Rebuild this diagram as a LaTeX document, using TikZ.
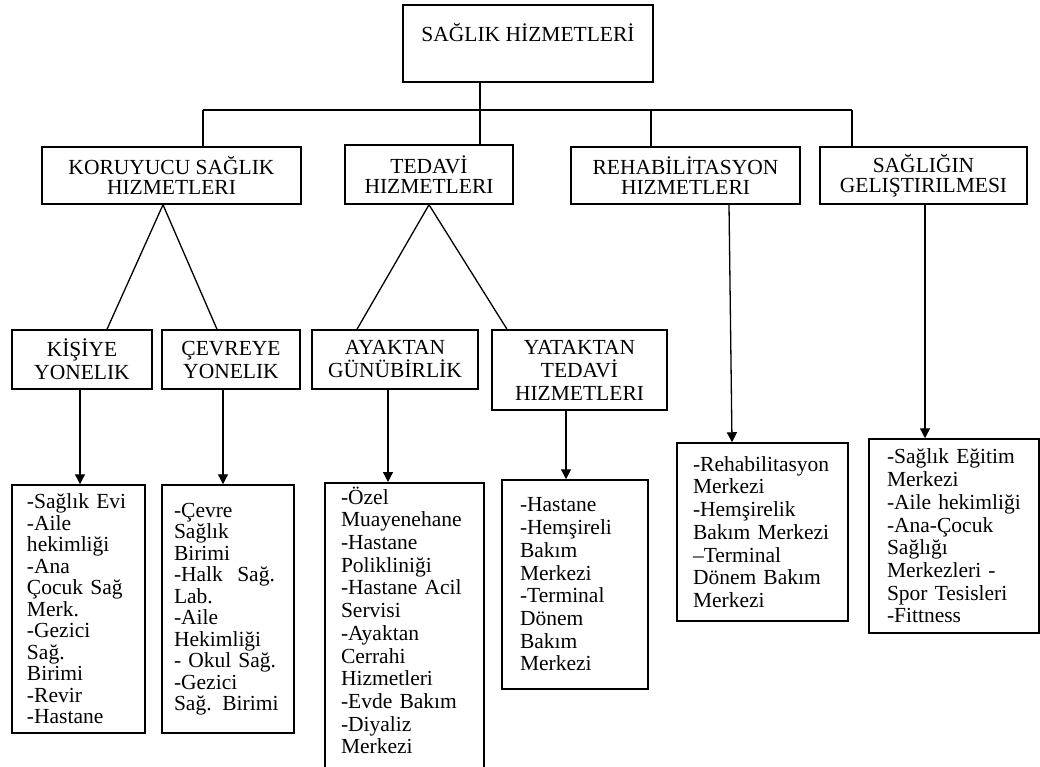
\documentclass[tikz,border=0pt]{standalone}
\usepackage{fontspec}
\setmainfont{Liberation Serif}
\usetikzlibrary{arrows.meta}
\tikzset{
  kutu/.style={draw, line width=1.5pt, align=center, inner sep=0pt, font=\fontsize{21.5}{20.5}\selectfont},
  altkutu/.style={kutu, font=\fontsize{21.5}{23}\selectfont},
  liste/.style={draw, line width=1.5pt, align=left, inner ysep=0pt, font=\fontsize{21.5}{22.7}\selectfont,
    execute at begin node={\hyphenpenalty=10000 \exhyphenpenalty=10000 }},
  sikliste/.style={liste, font=\fontsize{21.5}{21.5}\selectfont},
  cizgi/.style={line width=1.3pt},
  ok/.style={cizgi, -{Triangle[length=10pt,width=10pt]}}
}
\begin{document}
\begin{tikzpicture}[x=1pt, y=-1pt]
            \useasboundingbox (0,0) rectangle (1040,767);
            \clip (0,0) rectangle (1040,767);
            %Nodes
            \node[kutu, minimum width=250pt, minimum height=77pt, font=\fontsize{21.5}{23}\selectfont] at (528,43.5) (saglik) {SAĞLIK HİZMETLERİ\\~};
            \node[kutu, minimum width=259pt, minimum height=57pt] at (171.5,175.5) (koruyucu) {KORUYUCU SAĞLIK\\HIZMETLERI};
            \node[kutu, minimum width=168pt, minimum height=59pt] at (429,174.5) (tedavi) {TEDAVİ\\HIZMETLERI};
            \node[kutu, minimum width=229pt, minimum height=57pt] at (685.5,175.5) (rehab) {REHABİLİTASYON\\HIZMETLERI};
            \node[kutu, minimum width=207pt, minimum height=57pt] at (923.5,175.5) (gelistirme) {SAĞLIĞIN\\GELIŞTIRILMESI};
            \node[altkutu, minimum width=140pt, minimum height=59pt] at (82,359.5) (kisiye) {KİŞİYE\\YONELIK};
            \node[altkutu, minimum width=138pt, minimum height=59pt] at (231,359.5) (cevreye) {ÇEVREYE\\YONELIK};
            \node[altkutu, minimum width=166pt, minimum height=59pt] at (395,359.5) (ayaktan) {AYAKTAN\\GÜNÜBİRLİK};
            \node[altkutu, minimum width=175pt, minimum height=80pt] at (579.5,370) (yataktan) {YATAKTAN\\TEDAVİ\\HIZMETLERI};
            \node[sikliste, text width=103pt, inner xsep=15pt, minimum height=248pt] at (78.5,609) (kisiyeL) {-Sağlık Evi\\-Aile\\hekimliği\\-Ana\\Çocuk Sağ\\Merk.\\-Gezici\\Sağ.\\Birimi\\-Revir\\-Hastane};
            \node[sikliste, text width=108pt, inner xsep=12pt, minimum height=248pt] at (228,609) (cevreyeL) {-Çevre\\Sağlık\\Birimi\\-Halk\ \ Sağ.\\Lab.\\-Aile\\Hekimliği\\- Okul Sağ.\\-Gezici\\\mbox{Sağ. Birimi}};
            \node[liste, text width=127pt, inner xsep=16pt, inner ysep=4pt, anchor=north] at (404.5,482) (ayaktanL) {-Özel\\Muayenehane\\-Hastane\\Polikliniği\\-Hastane Acil\\Servisi\\-Ayaktan\\Cerrahi\\Hizmetleri\\-Evde Bakım\\-Diyaliz\\Merkezi\\~\\~};
            \node[liste, text width=110pt, inner xsep=18pt, minimum height=209pt] at (575,584.5) (yataktanL) {-Hastane\\-Hemşireli\\Bakım\\Merkezi\\-Terminal\\Dönem\\Bakım\\Merkezi};
            \node[liste, text width=139pt, inner xsep=16pt, minimum height=178pt] at (762.5,532) (rehabL) {-Rehabilitasyon\\Merkezi\\-Hemşirelik\\Bakım Merkezi\\--Terminal\\Dönem Bakım\\Merkezi};
            \node[liste, text width=134pt, inner xsep=18pt, minimum height=194pt] at (954,536) (gelistirmeL) {-Sağlık Eğitim\\Merkezi\\-Aile hekimliği\\-Ana-Çocuk\\Sağlığı\\Merkezleri -\\Spor Tesisleri\\-Fittness};
            \coordinate (b1) at (203,110);
            \coordinate (b2) at (480,110);
            \coordinate (b3) at (651,110);
            \coordinate (b4) at (852,110);

            %Lines
            \draw[cizgi] (saglik.south -| b2) -- (tedavi.north -| b2);
            \draw[cizgi] (b1) -- (b4);
            \draw[cizgi] (b1) -- (koruyucu.north -| b1);
            \draw[cizgi] (b3) -- (rehab.north -| b3);
            \draw[cizgi] (b4) -- (gelistirme.north -| b4);
            \draw[cizgi] ([xshift=-8.5pt]koruyucu.south) -- ([xshift=25pt]kisiye.north);
            \draw[cizgi] ([xshift=-8.5pt]koruyucu.south) -- ([xshift=-14pt]cevreye.north);
            \draw[cizgi] (tedavi.south) -- ([xshift=-38pt]ayaktan.north);
            \draw[cizgi] (tedavi.south) -- ([xshift=-72.5pt]yataktan.north);

            %Arrows
            \draw[ok] ([xshift=-2pt]kisiye.south) -- ([xshift=-2pt]kisiye.south |- kisiyeL.north);
            \draw[ok] ([xshift=-8pt]cevreye.south) -- ([xshift=-8pt]cevreye.south |- cevreyeL.north);
            \draw[ok] ([xshift=-7pt]ayaktan.south) -- ([xshift=-7pt]ayaktan.south |- ayaktanL.north);
            \draw[ok] ([xshift=-13.5pt]yataktan.south) -- ([xshift=-13.5pt]yataktan.south |- yataktanL.north);
            \draw[ok] ([xshift=43.5pt]rehab.south) -- ([xshift=-30.5pt]rehabL.north);
            \draw[ok] ([xshift=1.5pt]gelistirme.south) -- ([xshift=1.5pt]gelistirme.south |- gelistirmeL.north);
        \end{tikzpicture}
\end{document}
